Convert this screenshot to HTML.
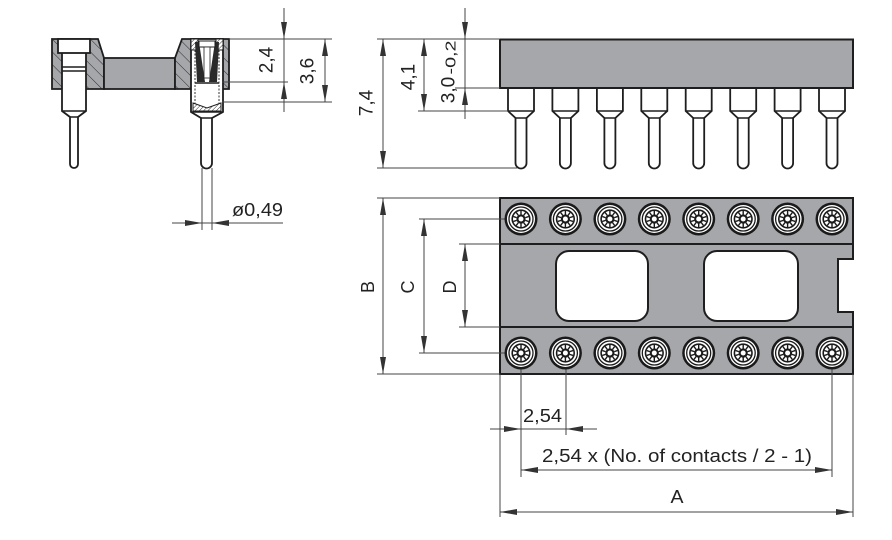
<!DOCTYPE html>
<html><head><meta charset="utf-8"><style>
html,body{margin:0;padding:0;background:#fff;}
svg{display:block;}
text{font-family:"Liberation Sans",Arial,sans-serif;fill:#222;}
</style></head><body>
<svg width="892" height="540" viewBox="0 0 892 540" xmlns="http://www.w3.org/2000/svg">
<defs>
<pattern id="hatch" patternUnits="userSpaceOnUse" width="9" height="9" patternTransform="rotate(-45)">
<rect width="9" height="9" fill="#a6a7aa"/>
<line x1="0" y1="0" x2="0" y2="9" stroke="#2a2a2a" stroke-width="1"/>
</pattern>
<pattern id="hatch2" patternUnits="userSpaceOnUse" width="3" height="3" patternTransform="rotate(45)">
<rect width="3" height="3" fill="#fff"/>
<line x1="0" y1="0" x2="0" y2="3" stroke="#333" stroke-width="1"/>
</pattern>
<g id="pin">
<path d="M-13,88 V111 L-5.5,118 V163 A5.5,5.5 0 0 0 5.5,163 V118 L13,111 V88" fill="#fff" stroke="#1e1e1e" stroke-width="1.8"/>
<path d="M-13,111 H13 M-5.5,118 H5.5" stroke="#1e1e1e" stroke-width="1.5" fill="none"/>
</g>
<g id="hole">
<circle r="16.5" fill="#1a1a1a"/>
<circle r="14" fill="#fff"/>
<circle r="12" fill="none" stroke="#1a1a1a" stroke-width="1.3"/>
<circle r="9.6" fill="#1a1a1a"/>
<circle r="8" fill="#fff"/>
<g stroke="#1a1a1a" stroke-width="1.4">
<line x1="0" y1="-4.5" x2="0" y2="-8"/>
<line x1="0" y1="-4.5" x2="0" y2="-8" transform="rotate(36)"/>
<line x1="0" y1="-4.5" x2="0" y2="-8" transform="rotate(72)"/>
<line x1="0" y1="-4.5" x2="0" y2="-8" transform="rotate(108)"/>
<line x1="0" y1="-4.5" x2="0" y2="-8" transform="rotate(144)"/>
<line x1="0" y1="-4.5" x2="0" y2="-8" transform="rotate(180)"/>
<line x1="0" y1="-4.5" x2="0" y2="-8" transform="rotate(216)"/>
<line x1="0" y1="-4.5" x2="0" y2="-8" transform="rotate(252)"/>
<line x1="0" y1="-4.5" x2="0" y2="-8" transform="rotate(288)"/>
<line x1="0" y1="-4.5" x2="0" y2="-8" transform="rotate(324)"/>
</g>
<circle r="4.6" fill="#1a1a1a"/>
<circle r="2.5" fill="#fff"/>
</g>
</defs>

<!-- ===== Left section view ===== -->
<polygon points="52,39 98,39 104,58 104,89 52,89" fill="url(#hatch)" stroke="#1e1e1e" stroke-width="1.8"/>
<rect x="104" y="58" width="71" height="31" fill="#a6a7aa" stroke="#1e1e1e" stroke-width="1.8"/>
<polygon points="182,39 229,39 229,89 175,89 175,58" fill="url(#hatch)" stroke="#1e1e1e" stroke-width="1.8"/>

<!-- left pin -->
<path d="M62,53 V111 L70,117 V164 A4,4 0 0 0 78,164 V117 L86,111 V53" fill="#fff" stroke="#1e1e1e" stroke-width="1.8"/>
<rect x="58" y="39" width="32" height="14" fill="#fff" stroke="#1e1e1e" stroke-width="1.8"/>
<path d="M62,67 H86 M62,71 H86 M62,111 H86 M70,117 H78" stroke="#1e1e1e" stroke-width="1.4" fill="none"/>

<!-- right contact -->
<path d="M191,39 V112 L201,118 V163 A5.5,5.5 0 0 0 212,163 V118 L223,112 V39 Z" fill="#fff" stroke="#1e1e1e" stroke-width="1.8"/>
<rect x="191" y="39" width="7" height="11" fill="url(#hatch2)" stroke="#1e1e1e" stroke-width="1"/>
<rect x="216" y="39" width="7" height="11" fill="url(#hatch2)" stroke="#1e1e1e" stroke-width="1"/>
<path d="M195,50 V108 M219,50 V108" stroke="#333" stroke-width="1" stroke-dasharray="2,1.5"/>
<polygon points="195,42 199,42 205,82 197,82" fill="#2a2a2a"/>
<polygon points="219,42 215,42 209,82 217,82" fill="#2a2a2a"/>
<rect x="199" y="41" width="16" height="6" fill="#fff" stroke="#1e1e1e" stroke-width="1"/>
<rect x="204" y="47" width="6" height="31" fill="#fff" stroke="#1e1e1e" stroke-width="0.8"/>
<path d="M195,83 H219" stroke="#1e1e1e" stroke-width="1.4"/>
<polygon points="193,103 207,108 221,103 221,111 193,111" fill="url(#hatch2)" stroke="#1e1e1e" stroke-width="1"/>
<path d="M191,112 H223 M201,118 H212" stroke="#1e1e1e" stroke-width="1.4"/>

<!-- left dims -->
<g stroke="#444" stroke-width="1" fill="none">
<path d="M229,39 H332 M222,82 H288 M222,102 H332 M284,8 V112 M325,39 V102"/>
<path d="M202,168 V230 M212,168 V230 M172,223 H283"/>
</g>
<g fill="#333">
<polygon points="284,39 281,22 287,22"/>
<polygon points="284,82 281,99 287,99"/>
<polygon points="325,39 322,56 328,56"/>
<polygon points="325,102 322,85 328,85"/>
<polygon points="202,223 185,220 185,226"/>
<polygon points="212,223 229,220 229,226"/>
</g>
<text transform="translate(267,60) rotate(-90)" font-size="19" text-anchor="middle" dominant-baseline="central">2,4</text>
<text transform="translate(308,71) rotate(-90)" font-size="19" text-anchor="middle" dominant-baseline="central">3,6</text>
<text x="232" y="216" font-size="18" textLength="51" lengthAdjust="spacingAndGlyphs">ø0,49</text>

<!-- ===== Top right side view ===== -->
<use href="#pin" x="521"/>
<use href="#pin" x="565.4"/>
<use href="#pin" x="609.9"/>
<use href="#pin" x="654.3"/>
<use href="#pin" x="698.7"/>
<use href="#pin" x="743.2"/>
<use href="#pin" x="787.6"/>
<use href="#pin" x="832"/>
<rect x="500" y="39.5" width="353" height="48.5" fill="#a6a7aa" stroke="#1e1e1e" stroke-width="2"/>

<g stroke="#444" stroke-width="1" fill="none">
<path d="M377,39 H500 M377,168 H517 M418,111 H508 M455,88 H500"/>
<path d="M383,39 V168 M424,39 V111 M465,8 V119"/>
</g>
<g fill="#333">
<polygon points="383,39 380,56 386,56"/>
<polygon points="383,168 380,151 386,151"/>
<polygon points="424,39 421,56 427,56"/>
<polygon points="424,111 421,94 427,94"/>
<polygon points="465,39 462,22 468,22"/>
<polygon points="465,88 462,105 468,105"/>
</g>
<text transform="translate(367,103) rotate(-90)" font-size="19" text-anchor="middle" dominant-baseline="central">7,4</text>
<text transform="translate(409,77) rotate(-90)" font-size="19" text-anchor="middle" dominant-baseline="central">4,1</text>
<text transform="translate(449,90) rotate(-90)" font-size="19" text-anchor="middle" dominant-baseline="central">3,0</text>
<text transform="translate(451,57.5) rotate(-90)" font-size="15" text-anchor="middle" dominant-baseline="central" textLength="34" lengthAdjust="spacingAndGlyphs">-0,2</text>

<!-- ===== Bottom view ===== -->
<path d="M500,198 H853 V259 H838 V312 H853 V374 H500 Z" fill="#a6a7aa" stroke="#1e1e1e" stroke-width="2"/>
<path d="M500,244 H853 M500,327 H853" stroke="#1e1e1e" stroke-width="2"/>
<rect x="556" y="251" width="92" height="70" rx="13" fill="#fff" stroke="#1e1e1e" stroke-width="2"/>
<rect x="704" y="251" width="94" height="70" rx="13" fill="#fff" stroke="#1e1e1e" stroke-width="2"/>

<g stroke="#444" stroke-width="1" fill="none">
<path d="M377,198 H500 M377,374 H500 M419,219 H505 M419,353 H505 M459,244 H500 M459,327 H500"/>
<path d="M383,198 V374 M424,219 V353 M465,244 V327"/>
<path d="M500,374 V517 M853,374 V517 M521,369 V477 M566,369 V435 M832,369 V477"/>
<path d="M490,429 H597 M521,470 H832 M500,512 H853"/>
</g>

<use href="#hole" x="521" y="219"/>
<use href="#hole" x="565.4" y="219"/>
<use href="#hole" x="609.9" y="219"/>
<use href="#hole" x="654.3" y="219"/>
<use href="#hole" x="698.7" y="219"/>
<use href="#hole" x="743.2" y="219"/>
<use href="#hole" x="787.6" y="219"/>
<use href="#hole" x="832" y="219"/>
<use href="#hole" x="521" y="353"/>
<use href="#hole" x="565.4" y="353"/>
<use href="#hole" x="609.9" y="353"/>
<use href="#hole" x="654.3" y="353"/>
<use href="#hole" x="698.7" y="353"/>
<use href="#hole" x="743.2" y="353"/>
<use href="#hole" x="787.6" y="353"/>
<use href="#hole" x="832" y="353"/>

<g fill="#333">
<polygon points="383,198 380,215 386,215"/>
<polygon points="383,374 380,357 386,357"/>
<polygon points="424,219 421,236 427,236"/>
<polygon points="424,353 421,336 427,336"/>
<polygon points="465,244 462,261 468,261"/>
<polygon points="465,327 462,310 468,310"/>
<polygon points="521,429 504,426 504,432"/>
<polygon points="566,429 583,426 583,432"/>
<polygon points="521,470 538,467 538,473"/>
<polygon points="832,470 815,467 815,473"/>
<polygon points="500,512 517,509 517,515"/>
<polygon points="853,512 836,509 836,515"/>
</g>

<text transform="translate(368,287) rotate(-90)" font-size="18" text-anchor="middle" dominant-baseline="central">B</text>
<text transform="translate(408,287) rotate(-90)" font-size="18" text-anchor="middle" dominant-baseline="central">C</text>
<text transform="translate(450,287) rotate(-90)" font-size="18" text-anchor="middle" dominant-baseline="central">D</text>

<text x="523" y="422" font-size="18" textLength="39" lengthAdjust="spacingAndGlyphs">2,54</text>
<text x="542" y="462" font-size="18" textLength="270" lengthAdjust="spacingAndGlyphs">2,54 x (No. of contacts / 2 - 1)</text>
<text x="670.5" y="503" font-size="18" textLength="13" lengthAdjust="spacingAndGlyphs">A</text>
</svg>
</body></html>
